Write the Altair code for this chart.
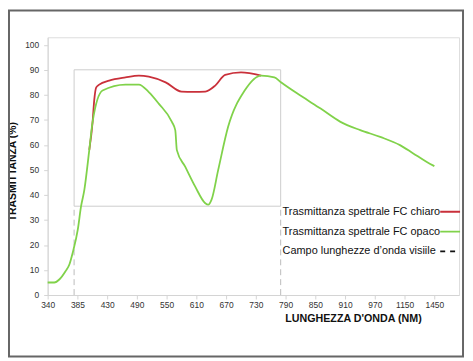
import altair as alt
import numpy as np
import pandas as pd

# Category tick labels of the wavelength axis (evenly spaced categories)
tick_labels = [340, 385, 430, 490, 550, 610, 670, 730, 790, 850, 910, 970, 1150, 1450]

# Green series: Trasmittanza spettrale FC opaco
green_nm = [340, 350, 358, 367, 373, 378, 385.5, 390.5, 395.5, 403, 408, 423, 467, 494, 514, 534,
            560.6, 567.4, 570.6, 587.4, 607.4, 627.4, 634, 640.6, 654, 674, 707.4, 740.6, 767.4,
            780.6, 820.6, 860.6, 900.6, 940.6, 1002, 1122, 1237, 1370, 1450]
green_val = [5, 5, 6.3, 9.5, 12.3, 17, 26, 35.4, 42, 58, 69.2, 81.7, 84.1, 84.1, 81.1, 76.5,
             69.2, 65.9, 57.9, 51.3, 43.4, 36.8, 36.1, 38.1, 50, 67.2, 81.7, 87.7, 87,
             85, 79.6, 74.5, 69.2, 65.9, 63.2, 59.9, 56.6, 53.3, 51.5]

# Red series: Trasmittanza spettrale FC chiaro (where it differs from the green one)
red_nm = [403, 408, 410.5, 413.5, 418, 434, 467, 494, 514, 548, 580, 604, 628, 648, 668, 700, 740.6]
red_val = [58, 69.2, 78, 83, 84.1, 85.7, 87, 87.7, 87.3, 85, 81.3, 81.2, 81.3, 83.7, 88, 89, 87.7]

# Visible range box
visible_nm = [380, 780]
visible_val = [35.5, 90]

legend_labels = ["Trasmittanza spettrale FC chiaro",
                 "Trasmittanza spettrale FC opaco",
                 "Campo lunghezze d\u2019onda visiile"]

idx = np.arange(len(tick_labels))


def to_pos(nm):
    return np.interp(nm, tick_labels, idx)


green_df = pd.DataFrame({"pos": to_pos(green_nm), "v": green_val})
red_df = pd.DataFrame({"pos": to_pos(red_nm), "v": red_val})
box_df = pd.DataFrame({"x1": [to_pos(visible_nm[0])], "x2": [to_pos(visible_nm[1])],
                       "y1": [visible_val[0]], "y2": [visible_val[1]]})
dash_df = pd.DataFrame({"x": to_pos(visible_nm), "y1": [0, 0], "y2": [visible_val[0]] * 2})

RED = "#c9303a"
GREEN = "#80d24a"
GRAY = "#cccccc"

label_arr = "[" + ",".join("'%d'" % t for t in tick_labels) + "]"
xscale = alt.Scale(domain=[0, 13.83], nice=False, zero=False)
yscale = alt.Scale(domain=[0, 103], nice=False)

xaxis = alt.Axis(values=list(range(len(tick_labels))), labelExpr=label_arr + "[datum.value]",
                 grid=False, domainColor="#d4d4d4", tickColor="#d4d4d4", tickSize=4,
                 labelFontSize=8.5, labelColor="#333333", labelPadding=2, labelFont="Liberation Sans",
                 labelOverlap=False, labelFlush=False, labelBound=False,
                 title="LUNGHEZZA D'ONDA (NM)", titleFont="Liberation Sans", titleFontSize=10.8,
                 titleFontWeight="bold", titleColor="#111111", titleX=308, titleY=24,
                 titleAlign="center", titleBaseline="middle")
yaxis = alt.Axis(values=list(range(0, 101, 10)), grid=False, domainColor="#d4d4d4",
                 tickColor="#d4d4d4", tickSize=4, labelFontSize=8.5, labelColor="#333333",
                 labelPadding=5, labelFont="Liberation Sans", labelOverlap=False, labelFlush=False,
                 labelBound=False,
                 title="TRASMITTANZA (%)", titleFont="Liberation Sans", titleFontSize=10.5,
                 titleFontWeight="bold", titleColor="#111111", titleX=-35, titleY=135,
                 titleAlign="center", titleBaseline="middle", titleAngle=270)

box = alt.Chart(box_df).mark_rect(fill=None, stroke=GRAY, strokeWidth=1).encode(
    x=alt.X("x1:Q", scale=xscale, axis=xaxis), x2="x2", y=alt.Y("y1:Q", scale=yscale, axis=yaxis), y2="y2")

dashes = alt.Chart(dash_df).mark_rule(color="#bbbbbb", strokeDash=[6, 4], strokeWidth=1).encode(
    x=alt.X("x:Q", scale=xscale, axis=xaxis), y=alt.Y("y1:Q", scale=yscale, axis=yaxis), y2="y2")

red_line = alt.Chart(red_df).mark_line(color=RED, strokeWidth=1.8, interpolate="monotone").encode(
    x=alt.X("pos:Q", scale=xscale, axis=xaxis), y=alt.Y("v:Q", scale=yscale, axis=yaxis))
green_line = alt.Chart(green_df).mark_line(color=GREEN, strokeWidth=1.8, interpolate="monotone").encode(
    x=alt.X("pos:Q", scale=xscale, axis=xaxis), y=alt.Y("v:Q", scale=yscale, axis=yaxis))

layers = [box, dashes, red_line, green_line]

leg_colors = [RED, GREEN, "#111111"]
leg_dash = [[1, 0], [1, 0], [5, 5]]
for i, lab in enumerate(legend_labels):
    yy = 176 + i * 20
    layers.append(alt.Chart(pd.DataFrame({"t": [lab]})).mark_text(
        align="left", baseline="middle", fontSize=11, font="Liberation Sans", color="#111111").encode(
        text="t:N", x=alt.value(237), y=alt.value(yy)))
    layers.append(alt.Chart(pd.DataFrame({"t": [lab]})).mark_rule(
        color=leg_colors[i], strokeWidth=1.8, strokeDash=leg_dash[i]).encode(
        x=alt.value(396), x2=alt.value(416), y=alt.value(yy)))

frame = alt.Chart(pd.DataFrame({"a": [0]})).mark_rect(
    fill=None, stroke="#666666", strokeWidth=2).encode(
    x=alt.value(-39), x2=alt.value(419), y=alt.value(-27), y2=alt.value(322))
layers.append(frame)

chart = alt.layer(*layers).properties(
    width=415, height=260,
    autosize=alt.AutoSizeParams(type="none"),
    padding={"left": 40, "top": 28, "right": 6, "bottom": 63},
).configure_view(stroke=None).configure(background="white").configure_axis(labelOverlap=False)

chart.save("out.html", embed_options={"renderer": "svg", "actions": False})
